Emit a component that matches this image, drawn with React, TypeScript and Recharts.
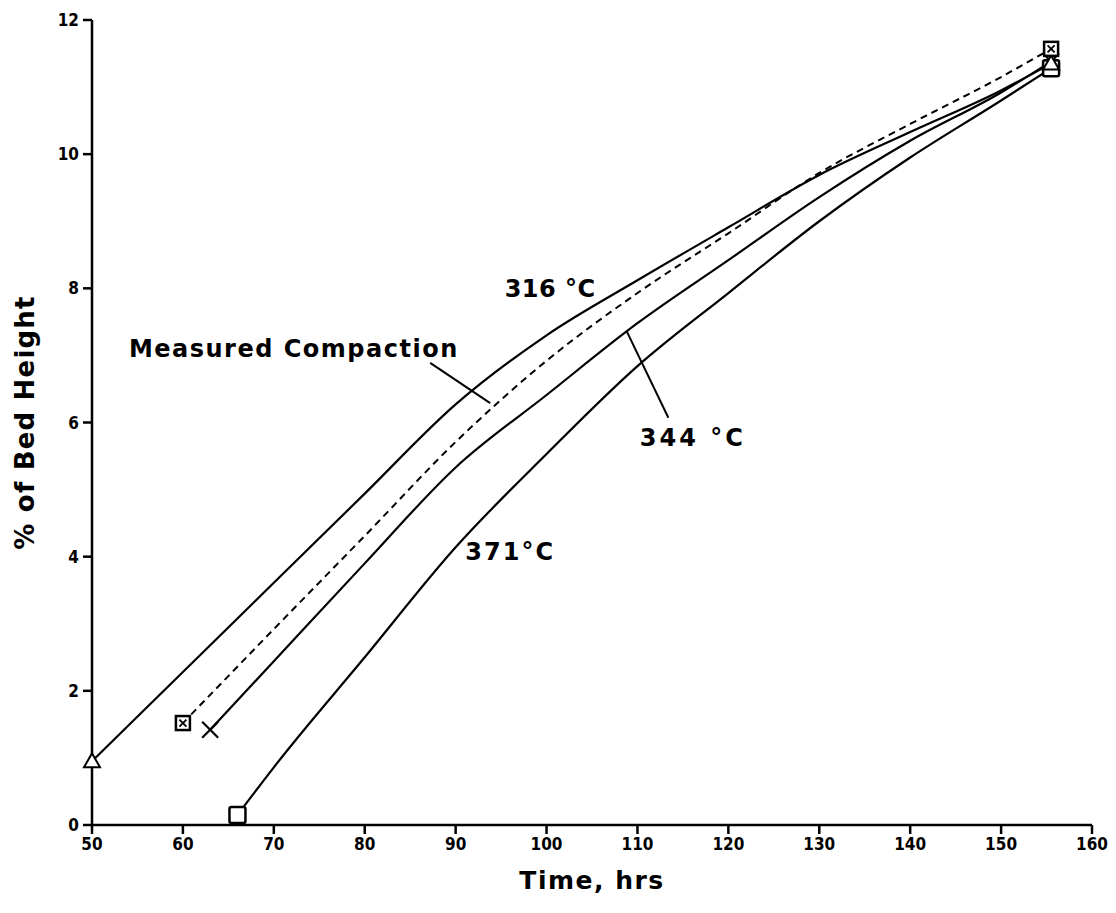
import React from "react";
import {
  LineChart,
  Line,
  XAxis,
  YAxis,
  ReferenceLine,
  ReferenceDot,
} from "recharts";

// time (hrs) and compaction (% of bed height)
const time316 = [50, 60, 70, 80, 90, 100, 110, 120, 130, 140, 150, 155.5];
const comp316 = [0.95, 2.28, 3.61, 4.94, 6.27, 7.3, 8.12, 8.91, 9.69, 10.33, 10.95, 11.35];

const timeMeasured = [60, 70, 80, 90, 100, 110, 120, 130, 140, 150, 155.5];
const compMeasured = [1.52, 2.92, 4.31, 5.71, 6.92, 7.93, 8.82, 9.72, 10.45, 11.15, 11.57];

const time344 = [63, 70, 80, 90, 100, 110, 120, 130, 140, 150, 155.5];
const comp344 = [1.42, 2.44, 3.9, 5.33, 6.41, 7.48, 8.42, 9.36, 10.2, 10.92, 11.38];

const time371 = [66, 70, 80, 90, 100, 110, 120, 130, 140, 150, 155.5];
const comp371 = [0.15, 0.86, 2.5, 4.14, 5.53, 6.84, 7.93, 9.0, 9.95, 10.8, 11.28];

const xTicks = [50, 60, 70, 80, 90, 100, 110, 120, 130, 140, 150, 160];
const yTicks = [0, 2, 4, 6, 8, 10, 12];

const toRows = (ts: number[], vs: number[]) => ts.map((t, i) => ({ t, v: vs[i] }));

const tickFont = "'DejaVu Sans Condensed', 'Liberation Sans Narrow', 'DejaVu Sans', sans-serif";
const labelFont = "'DejaVu Sans', 'Liberation Sans', sans-serif";

type Shape = "triangle" | "boxX" | "cross" | "square";

const Marker = ({ cx, cy, shape }: { cx: number; cy: number; shape: Shape }) => {
  if (shape === "triangle") {
    return (
      <polygon
        points={`${cx},${cy - 8} ${cx - 8},${cy + 6} ${cx + 8},${cy + 6}`}
        fill="#fff"
        stroke="#000"
        strokeWidth={2}
      />
    );
  }
  if (shape === "cross") {
    return (
      <g stroke="#000" strokeWidth={2.2}>
        <line x1={cx - 8} y1={cy - 8} x2={cx + 8} y2={cy + 8} />
        <line x1={cx - 8} y1={cy + 8} x2={cx + 8} y2={cy - 8} />
      </g>
    );
  }
  if (shape === "boxX") {
    return (
      <g stroke="#000" strokeWidth={2.5} fill="#fff">
        <rect x={cx - 7} y={cy - 7} width={14} height={14} />
        <line x1={cx - 3.5} y1={cy - 3.5} x2={cx + 3.5} y2={cy + 3.5} strokeWidth={1.8} />
        <line x1={cx - 3.5} y1={cy + 3.5} x2={cx + 3.5} y2={cy - 3.5} strokeWidth={1.8} />
      </g>
    );
  }
  return (
    <rect
      x={cx - 8}
      y={cy - 8}
      width={16}
      height={16}
      rx={2}
      fill="#fff"
      stroke="#000"
      strokeWidth={2.5}
    />
  );
};

const endDots = (shape: Shape, count: number) => (props: any) => {
  const { cx, cy, index } = props;
  if (index !== 0 && index !== count - 1) return <g key={`d-${shape}-${index}`} />;
  return (
    <g key={`d-${shape}-${index}`}>
      <Marker cx={cx} cy={cy} shape={shape} />
    </g>
  );
};

const annoLabel = (value: string, size: number, spacing: number) => ({
  value,
  position: "center" as const,
  fill: "#000",
  fontSize: size,
  fontWeight: 700,
  fontFamily: labelFont,
  letterSpacing: spacing,
});

// rotated y axis title, centred on the axis
const YTitle = (props: any) => {
  const { viewBox } = props;
  const x = viewBox.x - 7;
  const y = viewBox.y + viewBox.height / 2;
  return (
    <text
      x={x}
      y={y}
      transform={`rotate(-90, ${x}, ${y})`}
      textAnchor="middle"
      dominantBaseline="central"
      fill="#000"
      fontSize={26}
      fontWeight={700}
      fontFamily={labelFont}
      letterSpacing={1.2}
    >
      % of Bed Height
    </text>
  );
};

export default function App() {
  return (
    <div style={{ position: "absolute", left: 0, top: 0, background: "#fff" }}>
      <LineChart
        width={1116}
        height={913}
        margin={{ top: 20, right: 24, bottom: 58, left: 32 }}
      >
        <XAxis
          type="number"
          dataKey="t"
          domain={[50, 160]}
          ticks={xTicks}
          stroke="#000"
          strokeWidth={2.5}
          tickSize={9}
          tickMargin={4}
          height={30}
          tick={{ fill: "#000", fontSize: 17, fontWeight: 700, fontFamily: tickFont }}
          label={{
            value: "Time, hrs",
            position: "bottom",
            offset: 16,
            fill: "#000",
            fontSize: 25,
            fontWeight: 700,
            fontFamily: labelFont,
            letterSpacing: 1.5,
          }}
        />
        <YAxis
          type="number"
          dataKey="v"
          domain={[0, 12]}
          ticks={yTicks}
          stroke="#000"
          strokeWidth={2.5}
          tickSize={9}
          tickMargin={4}
          width={60}
          tick={{ fill: "#000", fontSize: 17, fontWeight: 700, fontFamily: tickFont }}
          label={<YTitle />}
        />
        <Line
          data={toRows(time371, comp371)}
          dataKey="v"
          type="monotone"
          stroke="#000"
          strokeWidth={2.2}
          dot={endDots("square", time371.length)}
          activeDot={false}
          isAnimationActive={false}
        />
        <Line
          data={toRows(time344, comp344)}
          dataKey="v"
          type="monotone"
          stroke="#000"
          strokeWidth={2.2}
          dot={endDots("cross", time344.length)}
          activeDot={false}
          isAnimationActive={false}
        />
        <Line
          data={toRows(time316, comp316)}
          dataKey="v"
          type="monotone"
          stroke="#000"
          strokeWidth={2.2}
          dot={endDots("triangle", time316.length)}
          activeDot={false}
          isAnimationActive={false}
        />
        <Line
          data={toRows(timeMeasured, compMeasured)}
          dataKey="v"
          type="monotone"
          stroke="#000"
          strokeWidth={2}
          strokeDasharray="7 5"
          dot={endDots("boxX", timeMeasured.length)}
          activeDot={false}
          isAnimationActive={false}
        />
        <ReferenceLine
          segment={[{ x: 87.2, y: 6.89 }, { x: 93.8, y: 6.29 }]}
          stroke="#000"
          strokeWidth={2}
        />
        <ReferenceLine
          segment={[{ x: 108.85, y: 7.35 }, { x: 113.4, y: 6.07 }]}
          stroke="#000"
          strokeWidth={2}
        />
        <ReferenceDot x={100.4} y={8.0} r={0} stroke="none" label={annoLabel("316 °C", 24, 0.5)} />
        <ReferenceDot x={72.2} y={7.11} r={0} stroke="none" label={annoLabel("Measured Compaction", 24, 1.5)} />
        <ReferenceDot x={116.1} y={5.77} r={0} stroke="none" label={annoLabel("344 °C", 24, 3)} />
        <ReferenceDot x={96.0} y={4.07} r={0} stroke="none" label={annoLabel("371°C", 24, 2)} />
      </LineChart>
    </div>
  );
}
